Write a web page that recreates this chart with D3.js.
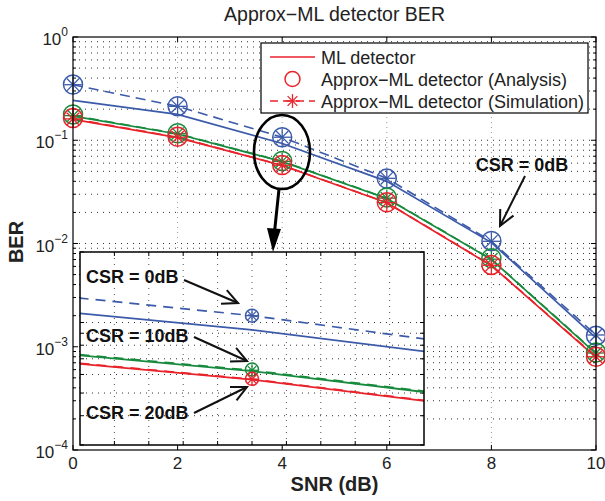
<!DOCTYPE html>
<html>
<head>
<meta charset="utf-8">
<script src="https://cdn.jsdelivr.net/npm/d3@7"></script>
<style>
  body { margin: 0; background: #fff; }
  text { font-family: "Liberation Sans", Arial, Helvetica, sans-serif; }
</style>
</head>
<body>
<div id="chart"></div>
<script>
/* DATA */
const snr = [0, 2, 4, 6, 8, 10];
const seriesNames = ["CSR = 0dB", "CSR = 10dB", "CSR = 20dB"];
const seriesColors = ["#3b5aa9", "#178a3d", "#e8232b"];

// ML detector (solid lines)
const mlCsr0  = [0.243, 0.178, 0.093, 0.0400, 0.0102, 0.00122];
const mlCsr10 = [0.171, 0.115, 0.062, 0.0273, 0.0070, 0.00086];
const mlCsr20 = [0.159, 0.106, 0.057, 0.0248, 0.0061, 0.00079];

// Approx-ML analysis (circles)
const anCsr0  = [0.347, 0.214, 0.107, 0.0425, 0.0106, 0.00128];
const anCsr10 = [0.178, 0.117, 0.063, 0.0279, 0.0072, 0.00088];
const anCsr20 = [0.164, 0.108, 0.0575, 0.0251, 0.0062, 0.00080];

// Approx-ML simulation (dashed + asterisks)
const simCsr0  = [0.345, 0.213, 0.107, 0.0428, 0.0105, 0.00130];
const simCsr10 = [0.173, 0.116, 0.0625, 0.0275, 0.00705, 0.00087];
const simCsr20 = [0.161, 0.107, 0.0573, 0.0249, 0.00615, 0.00080];

const xTicks = [0, 2, 4, 6, 8, 10];
const yDecades = [-4, -3, -2, -1, 0];
const legendLabels = ["ML detector", "Approx\u2212ML detector (Analysis)", "Approx\u2212ML detector (Simulation)"];

/* CONSTANTS */
const width = 605, height = 501;
const plot = { left: 73, right: 596, top: 37, bottom: 450 };
const inset = { left: 80, right: 424, top: 252, bottom: 445 };

const ml = [mlCsr0, mlCsr10, mlCsr20];
const an = [anCsr0, anCsr10, anCsr20];
const sim = [simCsr0, simCsr10, simCsr20];

const svg = d3.select("#chart").append("svg")
  .attr("width", width)
  .attr("height", height);

svg.append("rect").attr("width", width).attr("height", height).attr("fill", "#fff");

const x = d3.scaleLinear().domain([0, 10]).range([plot.left, plot.right]);
const y = d3.scaleLog().domain([1e-4, 1]).range([plot.bottom, plot.top]);

// log grid values (majors + minors)
function logGrid(lo, hi) {
  const out = [];
  for (let e = Math.floor(Math.log10(lo)); e <= Math.ceil(Math.log10(hi)); e++) {
    for (let m = 1; m <= 9; m++) {
      const v = m * Math.pow(10, e);
      if (v >= lo * 0.9999 && v <= hi * 1.0001) out.push(v);
    }
  }
  return out;
}

function marker(g, cx, cy, r, color, circle, star) {
  if (circle) {
    g.append("circle").attr("cx", cx).attr("cy", cy).attr("r", r)
      .attr("fill", "none").attr("stroke", color).attr("stroke-width", 1.5);
  }
  if (star) {
    const a = r * 0.92, d = a * Math.SQRT1_2;
    [[0, -a, 0, a], [-a, 0, a, 0], [-d, -d, d, d], [-d, d, d, -d]].forEach(s => {
      g.append("line")
        .attr("x1", cx + s[0]).attr("y1", cy + s[1])
        .attr("x2", cx + s[2]).attr("y2", cy + s[3])
        .attr("stroke", color).attr("stroke-width", 1.3);
    });
  }
}

/* MAIN AXES */
const main = svg.append("g");

// grid
main.selectAll(".hgrid").data(logGrid(1e-4, 1).filter(v => v > 1e-4 && v < 1))
  .join("line")
  .attr("x1", plot.left).attr("x2", plot.right)
  .attr("y1", d => y(d)).attr("y2", d => y(d))
  .attr("stroke", "#333").attr("stroke-width", 1).attr("stroke-dasharray", "1,5");
main.selectAll(".vgrid").data(xTicks.slice(1, -1))
  .join("line")
  .attr("x1", d => x(d)).attr("x2", d => x(d))
  .attr("y1", plot.top).attr("y2", plot.bottom)
  .attr("stroke", "#999").attr("stroke-width", 1).attr("stroke-dasharray", "1,4");

// ticks (inside, on all four sides)
const tk = main.append("g").attr("stroke", "#000").attr("stroke-width", 1);
xTicks.forEach(v => {
  tk.append("line").attr("x1", x(v)).attr("x2", x(v)).attr("y1", plot.bottom).attr("y2", plot.bottom - 5);
  tk.append("line").attr("x1", x(v)).attr("x2", x(v)).attr("y1", plot.top).attr("y2", plot.top + 5);
});
logGrid(1e-4, 1).forEach(v => {
  const major = Math.abs(Math.log10(v) - Math.round(Math.log10(v))) < 1e-9;
  const len = major ? 5 : 3;
  tk.append("line").attr("x1", plot.left).attr("x2", plot.left + len).attr("y1", y(v)).attr("y2", y(v));
  tk.append("line").attr("x1", plot.right).attr("x2", plot.right - len).attr("y1", y(v)).attr("y2", y(v));
});

// lines
const line = d3.line().x(d => x(d[0])).y(d => y(d[1]));
for (let i = 0; i < 3; i++) {
  main.append("path").datum(snr.map((s, j) => [s, sim[i][j]]))
    .attr("d", line).attr("fill", "none").attr("stroke", seriesColors[i])
    .attr("stroke-width", 1.6).attr("stroke-dasharray", "10,6");
  main.append("path").datum(snr.map((s, j) => [s, ml[i][j]]))
    .attr("d", line).attr("fill", "none").attr("stroke", seriesColors[i])
    .attr("stroke-width", 1.7);
}
for (let i = 0; i < 3; i++) {
  snr.forEach((s, j) => {
    marker(main, x(s), y(an[i][j]), 9.5, seriesColors[i], true, false);
    marker(main, x(s), y(sim[i][j]), 9.5, seriesColors[i], false, true);
  });
}

// frame
main.append("rect")
  .attr("x", plot.left).attr("y", plot.top)
  .attr("width", plot.right - plot.left).attr("height", plot.bottom - plot.top)
  .attr("fill", "none").attr("stroke", "#000").attr("stroke-width", 1.2);

// tick labels
main.selectAll(".xl").data(xTicks).join("text")
  .attr("x", d => x(d)).attr("y", plot.bottom + 19)
  .attr("text-anchor", "middle").attr("font-size", 17).attr("fill", "#222")
  .text(d => d);
yDecades.forEach(e => {
  const t = main.append("text")
    .attr("x", 68).attr("y", y(Math.pow(10, e)) + 8)
    .attr("text-anchor", "end").attr("font-size", 17).attr("fill", "#222");
  t.append("tspan").text("10");
  t.append("tspan").attr("dy", -9).attr("font-size", 12)
    .text(e === 0 ? "0" : "\u2212" + Math.abs(e));
});

// axis titles
svg.append("text")
  .attr("x", (plot.left + plot.right) / 2).attr("y", 21)
  .attr("text-anchor", "middle").attr("font-size", 19.5).attr("fill", "#222")
  .text("Approx\u2212ML detector BER");
svg.append("text")
  .attr("x", (plot.left + plot.right) / 2).attr("y", 491)
  .attr("text-anchor", "middle").attr("font-size", 20).attr("font-weight", "bold").attr("fill", "#222")
  .text("SNR (dB)");
svg.append("text")
  .attr("transform", "translate(23,242) rotate(-90)")
  .attr("text-anchor", "middle").attr("font-size", 20).attr("font-weight", "bold").attr("fill", "#222")
  .text("BER");

/* LEGEND */
const lg = svg.append("g");
lg.append("rect").attr("x", 261).attr("y", 43).attr("width", 327).attr("height", 70)
  .attr("fill", "#fff").attr("stroke", "#000").attr("stroke-width", 1.2);
const lgY = [57, 79, 101];
const red = seriesColors[2];
lg.append("line").attr("x1", 270).attr("x2", 315).attr("y1", lgY[0]).attr("y2", lgY[0])
  .attr("stroke", red).attr("stroke-width", 1.6);
marker(lg, 292.5, lgY[1], 7.5, red, true, false);
lg.append("line").attr("x1", 270).attr("x2", 315).attr("y1", lgY[2]).attr("y2", lgY[2])
  .attr("stroke", red).attr("stroke-width", 1.6).attr("stroke-dasharray", "8,5");
marker(lg, 292.5, lgY[2], 7.5, red, false, true);
legendLabels.forEach((t, i) => {
  lg.append("text").attr("x", 321).attr("y", lgY[i] + 6.5)
    .attr("font-size", 18).attr("fill", "#222").text(t);
});

/* ELLIPSE + BIG ARROW */
svg.append("ellipse").attr("cx", 282).attr("cy", 152).attr("rx", 28).attr("ry", 37)
  .attr("fill", "none").attr("stroke", "#000").attr("stroke-width", 2.6);
svg.append("line").attr("x1", 279).attr("y1", 189).attr("x2", 274.5).attr("y2", 232)
  .attr("stroke", "#000").attr("stroke-width", 3);
svg.append("path").attr("d", "M267,228 L281,229 L273,252 Z").attr("fill", "#000");

/* INSET */
const xi = d3.scaleLinear().domain([3.5, 4.5]).range([inset.left, inset.right]);
const yi = d3.scaleLog().domain([0.03, 0.2]).range([inset.bottom, inset.top]);
const ig = svg.append("g");
ig.append("rect").attr("x", inset.left).attr("y", inset.top)
  .attr("width", inset.right - inset.left).attr("height", inset.bottom - inset.top)
  .attr("fill", "#fff");
svg.append("clipPath").attr("id", "insetClip").append("rect")
  .attr("x", inset.left).attr("y", inset.top)
  .attr("width", inset.right - inset.left).attr("height", inset.bottom - inset.top);

ig.selectAll(".ihg").data(logGrid(0.03, 0.2).filter(v => v > 0.03 && v < 0.2))
  .join("line")
  .attr("x1", inset.left).attr("x2", inset.right)
  .attr("y1", d => yi(d)).attr("y2", d => yi(d))
  .attr("stroke", "#333").attr("stroke-width", 1).attr("stroke-dasharray", "1,5");
ig.selectAll(".ivg").data(d3.range(3.6, 4.45, 0.1))
  .join("line")
  .attr("x1", d => xi(d)).attr("x2", d => xi(d))
  .attr("y1", inset.top).attr("y2", inset.bottom)
  .attr("stroke", "#555").attr("stroke-width", 1).attr("stroke-dasharray", "1,5");

const itk = ig.append("g").attr("stroke", "#000").attr("stroke-width", 1);
logGrid(0.03, 0.2).forEach(v => {
  itk.append("line").attr("x1", inset.left).attr("x2", inset.left + 4).attr("y1", yi(v)).attr("y2", yi(v));
  itk.append("line").attr("x1", inset.right).attr("x2", inset.right - 4).attr("y1", yi(v)).attr("y2", yi(v));
});
d3.range(3.6, 4.45, 0.1).forEach(v => {
  itk.append("line").attr("x1", xi(v)).attr("x2", xi(v)).attr("y1", inset.bottom).attr("y2", inset.bottom - 4);
  itk.append("line").attr("x1", xi(v)).attr("x2", xi(v)).attr("y1", inset.top).attr("y2", inset.top + 4);
});

const iline = d3.line().x(d => xi(d[0])).y(d => yi(d[1]));
const ic = ig.append("g").attr("clip-path", "url(#insetClip)");
for (let i = 0; i < 3; i++) {
  ic.append("path").datum(snr.map((s, j) => [s, sim[i][j]]))
    .attr("d", iline).attr("fill", "none").attr("stroke", seriesColors[i])
    .attr("stroke-width", 1.7).attr("stroke-dasharray", "10,7");
  ic.append("path").datum(snr.map((s, j) => [s, ml[i][j]]))
    .attr("d", iline).attr("fill", "none").attr("stroke", seriesColors[i])
    .attr("stroke-width", 1.8);
}
for (let i = 0; i < 3; i++) {
  snr.forEach((s, j) => {
    if (s < 3.5 || s > 4.5) return;
    marker(ic, xi(s), yi(an[i][j]), 6.5, seriesColors[i], true, false);
    marker(ic, xi(s), yi(sim[i][j]), 6.5, seriesColors[i], false, true);
  });
}
ig.append("rect").attr("x", inset.left).attr("y", inset.top)
  .attr("width", inset.right - inset.left).attr("height", inset.bottom - inset.top)
  .attr("fill", "none").attr("stroke", "#000").attr("stroke-width", 1.5);

/* ANNOTATIONS */
function openArrow(x1, y1, x2, y2) {
  const g = svg.append("g").attr("stroke", "#111").attr("stroke-width", 2).attr("fill", "none");
  g.append("line").attr("x1", x1).attr("y1", y1).attr("x2", x2).attr("y2", y2);
  const ang = Math.atan2(y2 - y1, x2 - x1), L = 17, w = 0.45;
  g.append("path").attr("d",
    `M${x2 - L * Math.cos(ang - w)},${y2 - L * Math.sin(ang - w)} L${x2},${y2} L${x2 - L * Math.cos(ang + w)},${y2 - L * Math.sin(ang + w)}`);
}
function label(txt, xx, yy, anchor) {
  svg.append("text").attr("x", xx).attr("y", yy)
    .attr("text-anchor", anchor).attr("font-size", 18).attr("font-weight", "bold")
    .attr("fill", "#111").text(txt);
}
label(seriesNames[0], 522, 171, "middle");
openArrow(525, 176, 500, 226);
label(seriesNames[0], 86, 283, "start");
openArrow(184, 280, 238, 303);
label(seriesNames[1], 86, 342, "start");
openArrow(194, 337, 247, 361);
label(seriesNames[2], 86, 419, "start");
openArrow(194, 413, 247, 387);
</script>
</body>
</html>
